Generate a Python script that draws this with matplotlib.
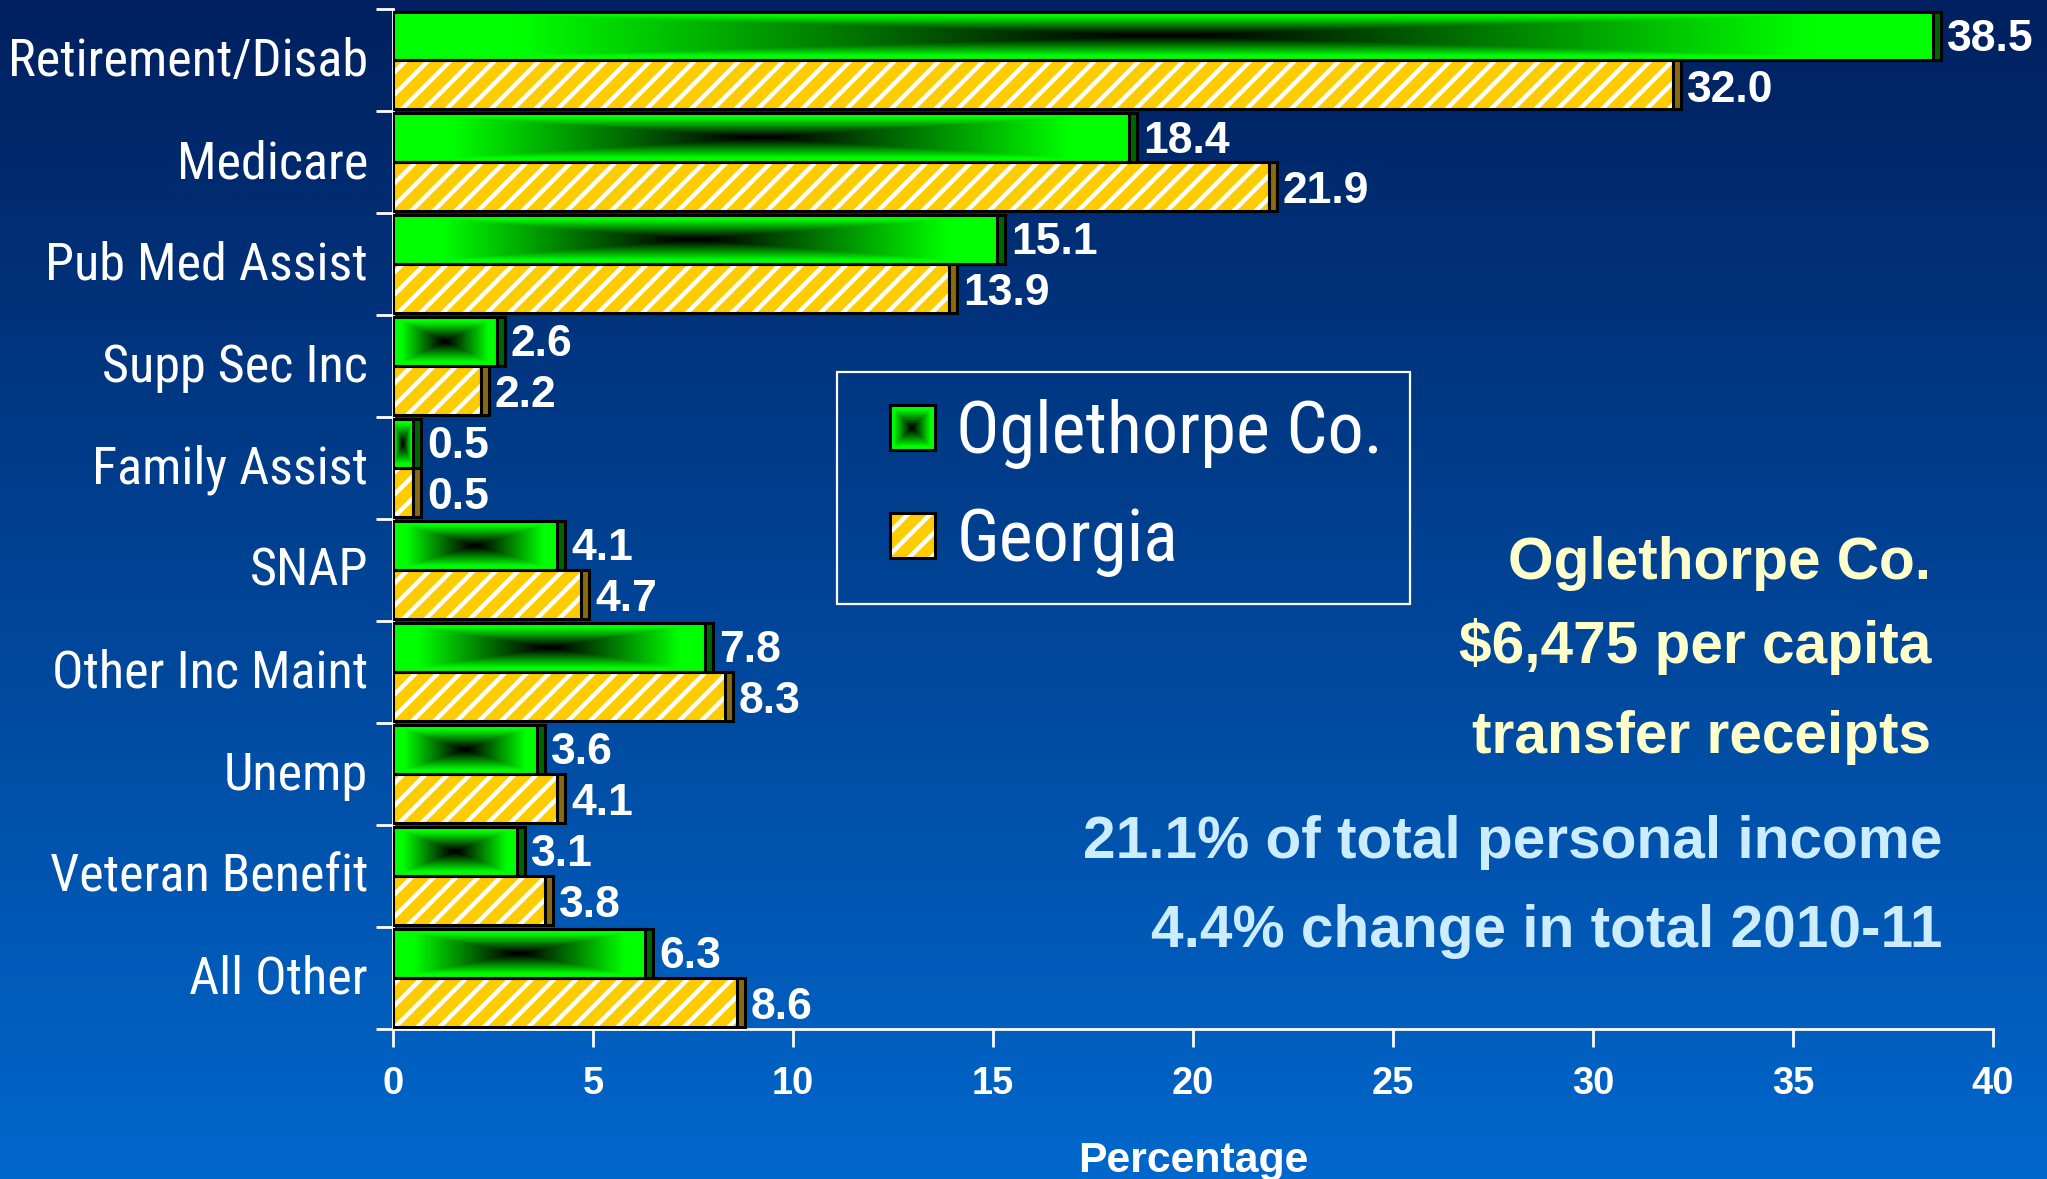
import numpy as np
import matplotlib
matplotlib.use("Agg")
from matplotlib import pyplot as plt
from matplotlib.patches import Rectangle
from matplotlib.legend_handler import HandlerBase
from matplotlib.transforms import ScaledTranslation

categories = ["Retirement/Disab", "Medicare", "Pub Med Assist", "Supp Sec Inc",
              "Family Assist", "SNAP", "Other Inc Maint", "Unemp",
              "Veteran Benefit", "All Other"]
oglethorpe = [38.5, 18.4, 15.1, 2.6, 0.5, 4.1, 7.8, 3.6, 3.1, 6.3]
georgia = [32.0, 21.9, 13.9, 2.2, 0.5, 4.7, 8.3, 4.1, 3.8, 8.6]
series_names = ["Oglethorpe Co.", "Georgia"]
x_ticks = [0, 5, 10, 15, 20, 25, 30, 35, 40]
note_county = ["Oglethorpe Co.", "\\$6,475 per capita", "transfer receipts"]
note_income = ["21.1% of total personal income", "4.4% change in total 2010-11"]

GREEN = "#00FF00"
GOLD = "#FFCC00"
GREEN_SIDE = "#006400"
GOLD_SIDE = "#8A6A10"
BG_TOP = "#00205F"
BG_BOTTOM = "#0067CC"
NARROW = ["Liberation Sans Narrow", "Roboto Condensed", "Archivo Narrow",
          "Liberation Sans", "DejaVu Sans"]
BAR_H = 0.48
SIDE = 0.2

plt.rcParams["font.family"] = ["Liberation Sans", "DejaVu Sans"]
plt.rcParams["hatch.linewidth"] = 1.6


def shade(t):
    # brightness of the green path gradient, black in the middle
    return np.clip(1.25 * t - 0.05, 0, 1)


def gradient_image(nx=400, ny=60):
    u = np.abs(np.linspace(-1, 1, nx))
    v = np.abs(np.linspace(-1, 1, ny))
    t = np.maximum(u[None, :], v[:, None])
    img = np.zeros((ny, nx, 3))
    img[..., 1] = shade(t)
    return img


class GradientSquare(HandlerBase):
    def create_artists(self, legend, orig_handle, xdescent, ydescent,
                       width, height, fontsize, trans):
        side = height
        x0 = width - side - xdescent
        y0 = -ydescent
        arts = []
        n = 30
        for k in range(n):
            s = side * (1 - k / n)
            off = (side - s) / 2
            arts.append(Rectangle((x0 + off, y0 + off), s, s,
                                  facecolor=(0, shade(1 - k / n), 0),
                                  edgecolor="none", transform=trans))
        arts.append(Rectangle((x0, y0), side, side, fill=False,
                              edgecolor="black", lw=1.1, transform=trans))
        return arts


class HatchSquare(HandlerBase):
    def create_artists(self, legend, orig_handle, xdescent, ydescent,
                       width, height, fontsize, trans):
        side = height
        x0 = width - side - xdescent
        y0 = -ydescent
        face = Rectangle((x0, y0), side, side, facecolor=GOLD, hatch="///",
                         edgecolor="white", lw=0, transform=trans)
        edge = Rectangle((x0, y0), side, side, fill=False,
                         edgecolor="black", lw=1.1, transform=trans)
        return [face, edge]


fig = plt.figure(figsize=(10.235, 5.895), dpi=200)

# background gradient over the whole slide
bg = fig.add_axes([0, 0, 1, 1], zorder=-10)
top = np.array(matplotlib.colors.to_rgb(BG_TOP))
bot = np.array(matplotlib.colors.to_rgb(BG_BOTTOM))
ramp = np.linspace(0, 1, 256)[:, None, None]
bg.imshow(top + (bot - top) * ramp * np.ones((1, 2, 3)), aspect="auto",
          extent=(0, 1, 0, 1), origin="upper")
bg.axis("off")

ax = fig.add_axes([393 / 2047, 1 - 1029 / 1179, 1600 / 2047, 1019.5 / 1179])
ax.set_facecolor("none")

y = np.arange(len(categories))
y_green = y - BAR_H / 2
y_gold = y + BAR_H / 2

green_bars = ax.barh(y_green, oglethorpe, height=BAR_H, color=GREEN,
                     edgecolor="black", lw=1.1, zorder=2)
img = gradient_image()
for patch, v, yc in zip(green_bars.patches, oglethorpe, y_green):
    im = ax.imshow(img, extent=(0, v, yc + BAR_H / 2, yc - BAR_H / 2),
                   aspect="auto", interpolation="bilinear", zorder=3)
    im.set_clip_path(patch)
ax.barh(y_green, oglethorpe, height=BAR_H, fill=False, edgecolor="black",
        lw=1.1, zorder=4)
ax.barh(y_green, SIDE, left=oglethorpe, height=BAR_H, color=GREEN_SIDE,
        edgecolor="black", lw=1.1, zorder=4)

gold_bars = ax.barh(y_gold, georgia, height=BAR_H, color=GOLD, hatch="///",
                    edgecolor="white", lw=0, zorder=2)
ax.barh(y_gold, georgia, height=BAR_H, fill=False, edgecolor="black",
        lw=1.1, zorder=4)
ax.barh(y_gold, SIDE, left=georgia, height=BAR_H, color=GOLD_SIDE,
        edgecolor="black", lw=1.1, zorder=4)

for v, yc in zip(oglethorpe, y_green):
    ax.text(v + SIDE + 0.15, yc + 0.03, f"{v:.1f}", ha="left", va="center",
            color="white", fontsize=16, fontweight="bold", zorder=5)
for v, yc in zip(georgia, y_gold):
    ax.text(v + SIDE + 0.15, yc + 0.05, f"{v:.1f}", ha="left", va="center",
            color="white", fontsize=16, fontweight="bold", zorder=5)

ax.set_xlim(0, 40)
ax.set_ylim(len(categories) - 0.5, -0.5)
ax.set_aspect("auto")

ax.set_yticks(y)
ax.set_yticklabels(categories, fontfamily=NARROW, fontsize=18.8, color="white")
ax.set_yticks(np.arange(-0.5, len(categories), 1), minor=True)
ax.tick_params(axis="y", which="major", length=0, pad=9)
ax.tick_params(axis="y", which="minor", length=6.1, width=1, color="white",
               direction="out")
# nudge the category names up a little
lift = ScaledTranslation(0, 1.4 / 72, fig.dpi_scale_trans)
for lbl in ax.get_yticklabels():
    lbl.set_transform(lbl.get_transform() + lift)

ax.set_xticks(x_ticks)
ax.set_xticklabels([str(t) for t in x_ticks], fontsize=13.7,
                   fontweight="bold", color="white")
ax.tick_params(axis="x", length=6.5, width=1, color="white", pad=7)
ax.set_xlabel("Percentage", fontsize=15.4, fontweight="bold", color="white",
              labelpad=13.7)

for side in ["top", "right"]:
    ax.spines[side].set_visible(False)
for side in ["left", "bottom"]:
    ax.spines[side].set_color("white")
    ax.spines[side].set_linewidth(1)

leg = ax.legend([green_bars, gold_bars], series_names,
                handler_map={green_bars: GradientSquare(), gold_bars: HatchSquare()},
                loc="upper left", bbox_to_anchor=(837 / 2047, 1 - 372 / 1179),
                bbox_transform=fig.transFigure, borderaxespad=0,
                prop={"family": NARROW, "size": 26}, labelcolor="white",
                frameon=True, fancybox=False, facecolor="none",
                edgecolor="white", framealpha=1, borderpad=0.38,
                labelspacing=0.52, handlelength=0.97, handleheight=0.58,
                handletextpad=0.3)
leg.get_frame().set_linewidth(0.8)
leg.set_zorder(6)

# notes on the right
for line, yy in zip(note_county, [0.4414, 0.3590, 0.2707]):
    ax.text(0.9613, yy, line, transform=ax.transAxes, ha="right",
            va="baseline", color="#FFFFCC", fontsize=21.1, fontweight="bold")
for line, yy in zip(note_income, [0.1677, 0.0804]):
    ax.text(0.9685, yy, line, transform=ax.transAxes, ha="right",
            va="baseline", color="#CCECFF", fontsize=21.1, fontweight="bold")

fig.savefig("out.png", dpi=200)
plt.close(fig)
